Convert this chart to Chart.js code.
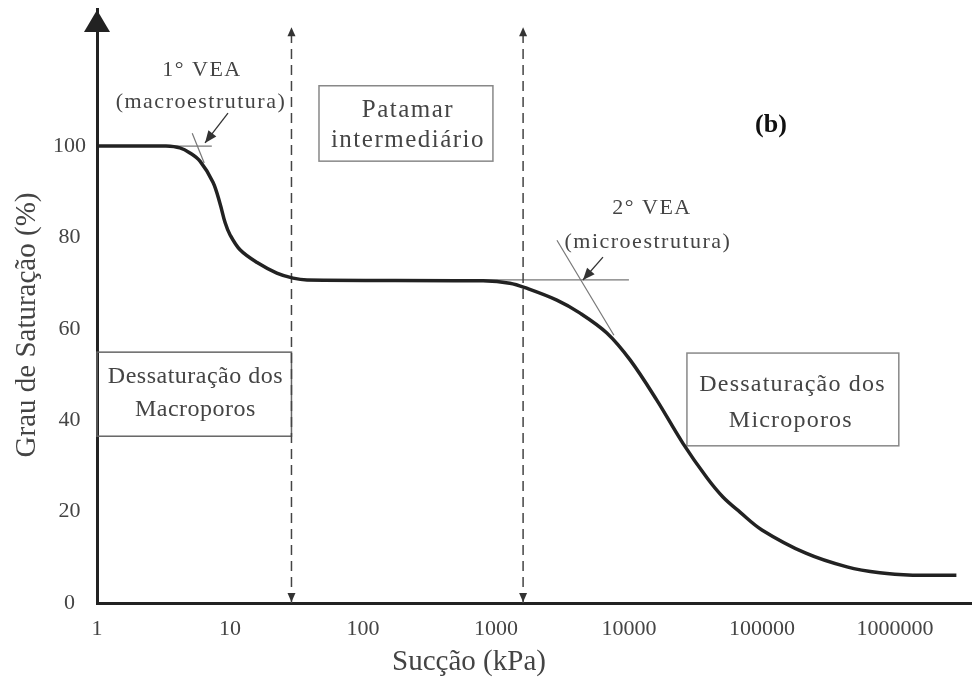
<!DOCTYPE html>
<html>
<head>
<meta charset="utf-8">
<title>Curva de retenção</title>
<script src="https://cdn.jsdelivr.net/npm/chart.js@4.4.0/dist/chart.umd.min.js"></script>
<style>
  html, body { margin: 0; padding: 0; background: #fff; }
</style>
</head>
<body>
<canvas id="swcc" width="972" height="679"></canvas>
<script>
// curva de retenção (sucção em kPa, grau de saturação em %)
const suction = [1, 2, 3.3, 4.2, 5, 5.95, 7.45, 8.4, 9.2, 10, 11.9, 16, 22.5, 29.8, 38,
  800, 1270, 1700, 2870, 4260, 6820, 10200, 16200, 25400, 38600, 50900, 68400, 100000, 214000,
  436000, 770000, 1360000, 2900000];
const saturation = [100, 100, 100, 99.6, 98.5, 96.7, 92.1, 87.5, 83.2, 80.6, 77.3, 74.5, 72.2, 71.1, 70.7,
  70.5, 70, 68.9, 66.3, 63.5, 59.1, 53.2, 44.4, 35, 27.4, 23.2, 19.9, 16, 10.9,
  7.9, 6.6, 6.1, 6.1];

// limites das zonas (linhas tracejadas)
const limitSuction = [29, 1600];
const limitTop = 126;

// tangentes dos pontos de entrada de ar
const vea1FlatX = [3.3, 7.3], vea1FlatY = [100, 100];
const vea1SlopeX = [5.2, 6.4], vea1SlopeY = [102.8, 96.3];
const vea2FlatX = [745, 10000], vea2FlatY = [70.7, 70.7];
const vea2SlopeX = [2875, 7710], vea2SlopeY = [79.4, 58.6];

const xTicks = [1, 10, 100, 1000, 10000, 100000, 1000000];
const yTicks = [0, 20, 40, 60, 80, 100];

const FONT = "'Liberation Serif', 'Times New Roman', serif";

const pts = (xs, ys) => xs.map((x, i) => ({x: x, y: ys[i]}));
const thin = (xs, ys) => ({
  data: pts(xs, ys), borderColor: '#777', borderWidth: 1.2, pointRadius: 0, tension: 0
});

let datasets = [{
  data: pts(suction, saturation),
  borderColor: '#222',
  borderWidth: 3.5,
  pointRadius: 0,
  tension: 0.35
}];
limitSuction.forEach(v => datasets.push({
  data: pts([v, v], [0, limitTop]),
  borderColor: '#444', borderWidth: 1.5, borderDash: [10, 6], pointRadius: 0, arrows: true
}));
datasets.push(thin(vea1FlatX, vea1FlatY), thin(vea1SlopeX, vea1SlopeY),
  thin(vea2FlatX, vea2FlatY), thin(vea2SlopeX, vea2SlopeY));

function head(ctx, x0, y0, x1, y1, len, half) {
  const a = Math.atan2(y1 - y0, x1 - x0);
  ctx.beginPath();
  ctx.moveTo(x1, y1);
  ctx.lineTo(x1 - len * Math.cos(a) + half * Math.sin(a), y1 - len * Math.sin(a) - half * Math.cos(a));
  ctx.lineTo(x1 - len * Math.cos(a) - half * Math.sin(a), y1 - len * Math.sin(a) + half * Math.cos(a));
  ctx.closePath();
  ctx.fill();
}

const notes = {
  id: 'notes',
  beforeDatasetsDraw(chart) {
    const {ctx, scales: {x, y}} = chart;
    const boxes = [
      [1, 29, 54.9, 36.5, '#666'],
      [46.7, 949, 113.2, 96.7, '#888'],
      [27300, 1070000, 54.7, 34.4, '#888']
    ];
    ctx.save();
    ctx.lineWidth = 1.5;
    boxes.forEach(b => {
      const x0 = x.getPixelForValue(b[0]), x1 = x.getPixelForValue(b[1]);
      const y0 = y.getPixelForValue(b[2]), y1 = y.getPixelForValue(b[3]);
      ctx.strokeStyle = b[4];
      ctx.strokeRect(x0, y0, x1 - x0, y1 - y0);
    });
    ctx.restore();
  },
  afterDatasetsDraw(chart) {
    const {ctx, chartArea, scales: {x, y}} = chart;
    ctx.save();

    // seta do eixo y
    ctx.fillStyle = '#222';
    head(ctx, chartArea.left, 36, chartArea.left, 10, 22, 13);

    // setas das linhas tracejadas
    ctx.fillStyle = '#333';
    chart.data.datasets.forEach((ds, i) => {
      if (!ds.arrows) return;
      const p = chart.getDatasetMeta(i).data;
      head(ctx, p[0].x, p[0].y - 20, p[0].x, p[0].y - 1, 9, 4);
      head(ctx, p[1].x, p[1].y + 20, p[1].x, p[1].y, 9, 4);
    });

    // setas dos VEA
    ctx.strokeStyle = '#333';
    ctx.lineWidth = 1.3;
    [[9.66, 107.2, 6.49, 100.7], [6380, 75.7, 4510, 70.7]].forEach(a => {
      const x0 = x.getPixelForValue(a[0]), y0 = y.getPixelForValue(a[1]);
      const x1 = x.getPixelForValue(a[2]), y1 = y.getPixelForValue(a[3]);
      ctx.beginPath(); ctx.moveTo(x0, y0); ctx.lineTo(x1, y1); ctx.stroke();
      head(ctx, x0, y0, x1, y1, 12, 5);
    });

    // textos
    const labels = [
      ['1° VEA', 6.16, 116.7, 22, '1.5px'],
      ['(macroestrutura)', 6.05, 109.7, 22, '1.5px'],
      ['Patamar', 218, 107.9, 25, '1.5px'],
      ['intermediário', 218, 101.3, 25, '1.5px'],
      ['2° VEA', 14900, 86.5, 22, '1.5px'],
      ['(microestrutura)', 13900, 79, 22, '1.5px'],
      ['Dessaturação dos', 5.5, 49.5, 24, '0.5px'],
      ['Macroporos', 5.5, 42.2, 24, '0.5px'],
      ['Dessaturação dos', 170000, 47.7, 24, '1.2px'],
      ['Microporos', 165000, 40, 24, '1.2px']
    ];
    ctx.fillStyle = '#444';
    ctx.textAlign = 'center';
    ctx.textBaseline = 'middle';
    labels.forEach(l => {
      ctx.font = l[3] + 'px ' + FONT;
      ctx.letterSpacing = l[4];
      ctx.fillText(l[0], x.getPixelForValue(l[1]), y.getPixelForValue(l[2]));
    });
    ctx.letterSpacing = '0px';
    ctx.fillStyle = '#111';
    ctx.font = 'bold 26px ' + FONT;
    ctx.fillText('(b)', x.getPixelForValue(117000), y.getPixelForValue(104.6));

    // títulos dos eixos
    ctx.fillStyle = '#444';
    ctx.font = '29px ' + FONT;
    ctx.fillText('Sucção (kPa)', 469, 662);
    ctx.translate(27, 325);
    ctx.rotate(-Math.PI / 2);
    ctx.fillText('Grau de Saturação (%)', 0, 0);
    ctx.restore();
  }
};

new Chart(document.getElementById('swcc'), {
  type: 'line',
  data: {datasets: datasets},
  plugins: [notes],
  options: {
    responsive: false,
    animation: false,
    devicePixelRatio: 1,
    layout: {padding: {top: 9, left: 0, right: 0, bottom: 0}},
    plugins: {legend: {display: false}, tooltip: {enabled: false}},
    scales: {
      x: {
        type: 'logarithmic',
        min: 1,
        max: 3800000,
        grid: {display: false, drawTicks: false},
        border: {color: '#222', width: 3},
        afterBuildTicks: s => { s.ticks = xTicks.map(v => ({value: v})); },
        afterFit: s => { s.height = 76; s.paddingLeft = 0; s.paddingRight = 0; },
        ticks: {
          autoSkip: false, maxRotation: 0, padding: 13, color: '#444',
          font: {family: FONT, size: 22},
          callback: v => String(v)
        }
      },
      y: {
        min: 0,
        max: 130,
        grid: {display: false, drawTicks: false},
        border: {color: '#222', width: 3},
        afterBuildTicks: s => { s.ticks = yTicks.map(v => ({value: v})); },
        afterFit: s => { s.width = 97; s.paddingTop = 0; s.paddingBottom = 0; },
        ticks: {
          crossAlign: 'center', padding: 11, color: '#444',
          font: {family: FONT, size: 22}
        }
      }
    }
  }
});
</script>
</body>
</html>
